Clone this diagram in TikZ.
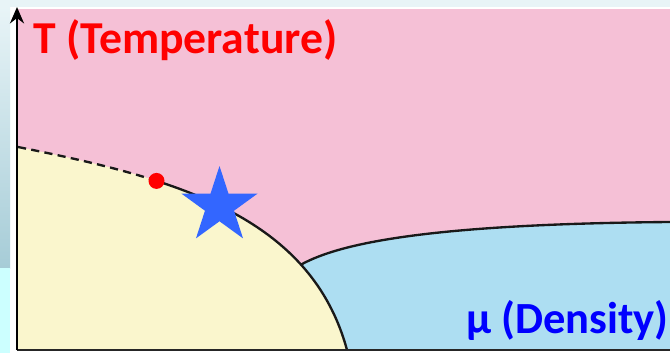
\documentclass[tikz,border=0pt]{standalone}
\usepackage{fontspec}
\setmainfont{Carlito}
\usetikzlibrary{arrows.meta}
\definecolor{phasepink}{RGB}{245,192,214}
\definecolor{phaseyellow}{RGB}{250,246,205}
\definecolor{phaseblue}{RGB}{173,222,242}
\definecolor{starblue}{RGB}{51,102,255}
\definecolor{slidetop}{RGB}{232,244,247}
\definecolor{slidegrey}{RGB}{166,204,215}
\definecolor{slidecyan}{RGB}{204,255,255}

\begin{document}
\begin{tikzpicture}[x=0.03cm,y=0.03cm,
    bound/.style={line width=2pt,black!90},
    lab/.style={font=\fontsize{39}{42}\selectfont\bfseries,inner sep=0pt}]
  \useasboundingbox (0,0) rectangle (670,353);
  % slide backdrop
  \fill[white] (0,0) rectangle (670,353);
  \fill[slidetop] (0,346) rectangle (670,353);
  \shade[top color=slidetop,bottom color=slidegrey] (0,85) rectangle (10,346);
  \fill[slidecyan] (0,0) rectangle (10,85);
  % phases
  \coordinate (o) at (17,3);
  \coordinate (tc) at (18,206);
  \coordinate (cp) at (156.5,172.1);
  \coordinate (bend) at (347,3);
  \coordinate (far) at (670,131);
  \path (cp) .. controls (248.1,142.6) and (321.8,96.2) .. coordinate[pos=0.632] (tp) (bend);
  \fill[phasepink] (18,3) rectangle (670,344);
  \fill[phaseblue] (tp) .. controls (340,110) and (430,129) .. (far)
    -- (670,3) -- (290,3) -- cycle;
  \fill[phaseyellow] (18,3) -- (tc) .. controls (168,176) and (310,140) .. (bend) -- cycle;
  \draw[bound,dash pattern=on 7pt off 4.5pt] (tc) .. controls (66,196.4) and (113.2,186.2) .. (cp);
  \draw[bound] (cp) .. controls (248.1,142.6) and (321.8,96.2) .. (bend);
  \draw[bound] (tp) .. controls (340,110) and (430,129) .. (far);
  % axes
  \draw[line width=2.2pt,black!85] (o) -- (670,3);
  \draw[line width=2pt,-{Stealth[length=14pt,width=12pt]}] (o) -- (17,346);
  % marks
  \fill[red] (cp) circle (8);
  \coordinate (st) at (219.5,147);
  \fill[starblue] ([shift={(90:40)}]st)
    \foreach \a/\r in {126/15.3,162/40,198/15.3,234/40,270/15.3,306/40,342/15.3,18/40,54/15.3}{
      -- ([shift={(\a:\r)}]st)} -- cycle;
  % labels
  \node[lab,red,anchor=base west] (tlab) at (33,300) {T (Temperature)};
  \node[lab,blue,font=\fontsize{38}{41}\selectfont\bfseries,anchor=base west] (mulab) at (466,20) {μ (Density)};
\end{tikzpicture}
\end{document}
